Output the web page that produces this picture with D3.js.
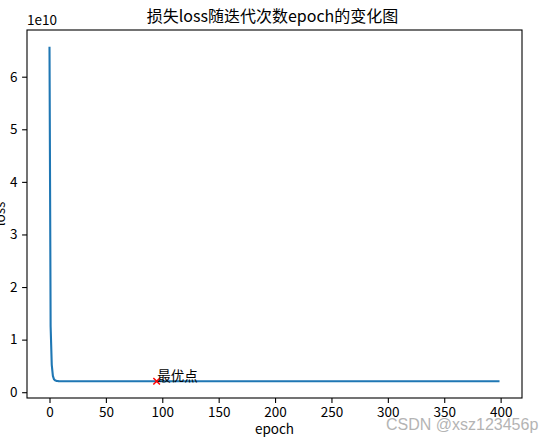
<!DOCTYPE html>
<html>
<head>
<meta charset="utf-8">
<script src="https://cdn.jsdelivr.net/npm/d3@7"></script>
<style>
  body { margin: 0; background: #fff; }
  svg { display: block; }
  text { font-family: "Noto Sans CJK SC", "DejaVu Sans", sans-serif; }
</style>
</head>
<body>
<svg id="chart" width="551" height="442"></svg>
<script>
// loss values
var epochs = [0, 1, 2, 3, 4, 5, 6, 7, 8, 10, 15, 20, 30, 50, 75, 95, 100, 150, 200, 250, 300, 350, 399];
var losses = [6.57e10, 1.25e10, 0.52e10, 0.31e10, 0.245e10, 0.225e10, 0.215e10, 0.212e10, 0.21e10, 0.209e10,
              0.2085e10, 0.2083e10, 0.2082e10, 0.2081e10, 0.2081e10, 0.2080e10, 0.2080e10, 0.2080e10,
              0.2080e10, 0.2080e10, 0.2080e10, 0.2080e10, 0.2080e10];
var xTicks = [0, 50, 100, 150, 200, 250, 300, 350, 400];
var yTicks = [0, 1, 2, 3, 4, 5, 6];
var bestEpoch = 95;
var bestLoss = 0.2080e10;

var svg = d3.select("#chart");
var plotLeft = 27, plotRight = 522, plotTop = 30, plotBottom = 398;

// matplotlib style 5% margins
function pad(ext) {
  var d = (ext[1] - ext[0]) * 0.05;
  return [ext[0] - d, ext[1] + d];
}

var x = d3.scaleLinear().domain(pad(d3.extent(epochs))).range([plotLeft, plotRight]);
var y = d3.scaleLinear().domain(pad(d3.extent(losses))).range([plotBottom, plotTop]);

var points = epochs.map(function(e, i){ return [e, losses[i]]; });

svg.append("path")
  .datum(points)
  .attr("fill", "none")
  .attr("stroke", "#1f77b4")
  .attr("stroke-width", 2.1)
  .attr("stroke-linejoin", "round")
  .attr("d", d3.line().x(function(d){ return x(d[0]); }).y(function(d){ return y(d[1]); }));

// best point marker
svg.append("path")
  .attr("d", d3.symbol().type(d3.symbolX).size(30))
  .attr("transform", "translate(" + x(bestEpoch) + "," + y(bestLoss) + ")")
  .attr("fill", "none")
  .attr("stroke", "red")
  .attr("stroke-width", 1.5);

svg.append("text")
  .text("最优点")
  .attr("x", x(bestEpoch) + 0.5)
  .attr("y", y(bestLoss))
  .attr("font-size", 13.5)
  .attr("fill", "#000");

// axes
var xAxis = svg.append("g")
  .attr("transform", "translate(0," + plotBottom + ")")
  .call(d3.axisBottom(x).tickValues(xTicks).tickSize(4.9).tickPadding(5).tickFormat(d3.format("d")));
var yAxis = svg.append("g")
  .attr("transform", "translate(" + plotLeft + ",0)")
  .call(d3.axisLeft(y).tickValues(yTicks.map(function(v){ return v * 1e10; })).tickSize(4.9).tickPadding(4.5)
    .tickFormat(function(v){ return Math.round(v / 1e10); }));

[xAxis, yAxis].forEach(function(g){
  g.select(".domain").remove();
  g.selectAll("line").attr("stroke", "#000").attr("stroke-width", 1.1);
  g.selectAll("text").attr("font-size", 13.5).attr("fill", "#000")
    .style("font-family", "'Noto Sans CJK SC', sans-serif");
});

// frame
svg.append("rect")
  .attr("x", plotLeft).attr("y", plotTop)
  .attr("width", plotRight - plotLeft).attr("height", plotBottom - plotTop)
  .attr("fill", "none").attr("stroke", "#000").attr("stroke-width", 1.1);

svg.append("text")
  .text("1e10")
  .attr("x", plotLeft)
  .attr("y", 24.5)
  .attr("font-size", 13.5);

svg.append("text")
  .text("损失loss随迭代次数epoch的变化图")
  .attr("x", (plotLeft + plotRight) / 2 - 2)
  .attr("y", 21.5)
  .attr("text-anchor", "middle")
  .attr("font-size", 16);

svg.append("text")
  .text("epoch")
  .attr("x", (plotLeft + plotRight) / 2)
  .attr("y", 434)
  .attr("text-anchor", "middle")
  .attr("font-size", 13.5);

svg.append("text")
  .text("loss")
  .attr("transform", "translate(4.5," + (plotTop + plotBottom) / 2 + ") rotate(-90)")
  .attr("text-anchor", "middle")
  .attr("font-size", 13.5);

// watermark
svg.append("text")
  .text("CSDN @xsz123456p")
  .attr("x", 386)
  .attr("y", 430)
  .attr("font-size", 16)
  .attr("fill", "#b4b4b4")
  .style("font-family", "'Liberation Sans', Arial, sans-serif");
</script>
</body>
</html>
